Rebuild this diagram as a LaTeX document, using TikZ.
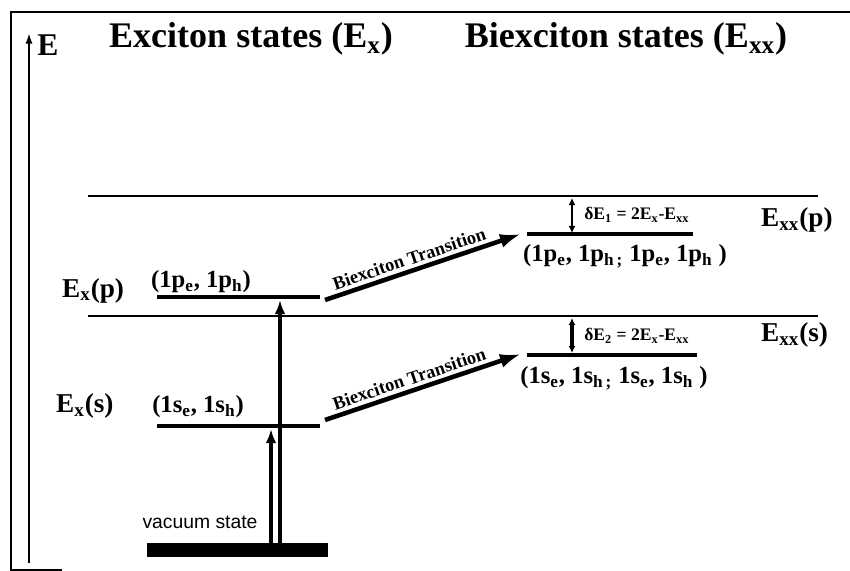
\documentclass[tikz,border=0pt]{standalone}
\usepackage{fontspec}
\setmainfont{Liberation Serif}
\setsansfont{Liberation Sans}
\usetikzlibrary{arrows.meta, positioning, calc}
\tikzset{
  level/.style={line width=2.6pt},
  refline/.style={line width=0.7pt},
  pump/.style={-{Latex[length=8pt,width=6pt]},line width=2pt},
  trans/.style={-{Latex[length=12pt,width=8pt]},line width=2.6pt},
  gaparr/.style={{Latex[length=4pt,width=4pt]}-{Latex[length=4pt,width=4pt]}},
  title/.style={font=\fontsize{20.5}{24}\selectfont\bfseries,anchor=base},
  statelbl/.style={font=\fontsize{14}{16}\selectfont\bfseries,anchor=base},
  levellbl/.style={font=\fontsize{15.5}{18}\selectfont\bfseries,anchor=base west},
  translbl/.style={font=\fontsize{10.5}{12}\selectfont\bfseries,sloped,above,inner sep=2pt},
  gaplbl/.style={font=\fontsize{10}{12}\selectfont\bfseries,anchor=base west,inner sep=0pt}
}
\newcommand{\sbs}[1]{\textsubscript{#1}}

\begin{document}
\begin{tikzpicture}[x=0.02cm,y=-0.02cm]
  \useasboundingbox (0,0) rectangle (850,571);

  % frame and energy axis
  \draw[line width=1.6pt] (850,12) -- (11,12) -- (11,571);
  \draw[line width=0.6pt] (12,570) -- (62,570);
  \coordinate (axbot) at (29,563);
  \coordinate (axtop) at (29,33);
  \draw[-{Latex[length=6pt,width=4pt]},line width=1.1pt] (axbot) -- (axtop);
  \node[font=\fontsize{18}{20}\selectfont\bfseries,anchor=base] (elab) at (48,56) {E};

  % titles
  \node[title] (ttlx) at (251,48) {Exciton states (E\sbs{x})};
  \node[title] (ttlxx) at (626,48) {Biexciton states (E\sbs{xx})};

  % reference lines
  \draw[refline] (88,196) -- (818,196);
  \draw[refline] (88,316) -- (818,316);

  % exciton levels
  \coordinate (xpL) at (157,297); \coordinate (xpR) at (320,297);
  \coordinate (xsL) at (157,426); \coordinate (xsR) at (320,426);
  \draw[level] (xpL) -- (xpR);
  \draw[level] (xsL) -- (xsR);
  \node[levellbl] (lxp) at (56,297) {E\sbs{x}(p)};
  \node[levellbl] (lxs) at (50,413) {E\sbs{x}(s)};
  \node[statelbl] (cxp) at (201,288) {(1p\sbs{e}, 1p\sbs{h})};
  \node[statelbl] (cxs) at (198,413) {(1s\sbs{e}, 1s\sbs{h})};

  % vacuum state and excitation
  \fill (147,543) rectangle (328,557);
  \node[font=\sffamily\fontsize{11}{13}\selectfont,anchor=base] (vlab) at (200,528) {vacuum state};
  \coordinate (vacA) at (271,543); \coordinate (topA) at (271,429);
  \coordinate (vacB) at (280,543); \coordinate (topB) at (280,300);
  \draw[pump] (vacA) -- (topA);
  \draw[pump] (vacB) -- (topB);

  % biexciton levels
  \coordinate (bpL) at (527,234); \coordinate (bpR) at (693,234);
  \coordinate (bsL) at (527,355); \coordinate (bsR) at (697,355);
  \draw[level] (bpL) -- (bpR);
  \draw[level] (bsL) -- (bsR);
  \node[statelbl] (cbp) at (625,262) {(1p\sbs{e}, 1p\sbs{h\,;} 1p\sbs{e}, 1p\sbs{h} )};
  \node[statelbl] (cbs) at (614,384) {(1s\sbs{e}, 1s\sbs{h\,;} 1s\sbs{e}, 1s\sbs{h} )};
  \node[levellbl] (lbp) at (755,227) {E\sbs{xx}(p)};
  \node[levellbl] (lbs) at (755,342) {E\sbs{xx}(s)};

  % binding energy gaps
  \coordinate (gpT) at (572,198); \coordinate (gpB) at (572,233);
  \coordinate (gsT) at (572,318); \coordinate (gsB) at (572,353);
  \draw[gaparr,line width=1.2pt] (gpT) -- (gpB);
  \draw[gaparr,line width=2pt] (gsT) -- (gsB);
  \node[gaplbl] (dgp) at (584,220) {δE\sbs{1} = 2E\sbs{x}-E\sbs{xx}};
  \node[gaplbl] (dgs) at (584,341) {δE\sbs{2} = 2E\sbs{x}-E\sbs{xx}};

  % biexciton transitions
  \coordinate (tpS) at (325,300); \coordinate (tpE) at (521,234);
  \coordinate (tsS) at (325,420); \coordinate (tsE) at (521,354);
  \draw[trans] (tpS) -- node[translbl,pos=0.45] (ltp) {Biexciton Transition} (tpE);
  \draw[trans] (tsS) -- node[translbl,pos=0.45] (lts) {Biexciton Transition} (tsE);

\end{tikzpicture}
\end{document}
